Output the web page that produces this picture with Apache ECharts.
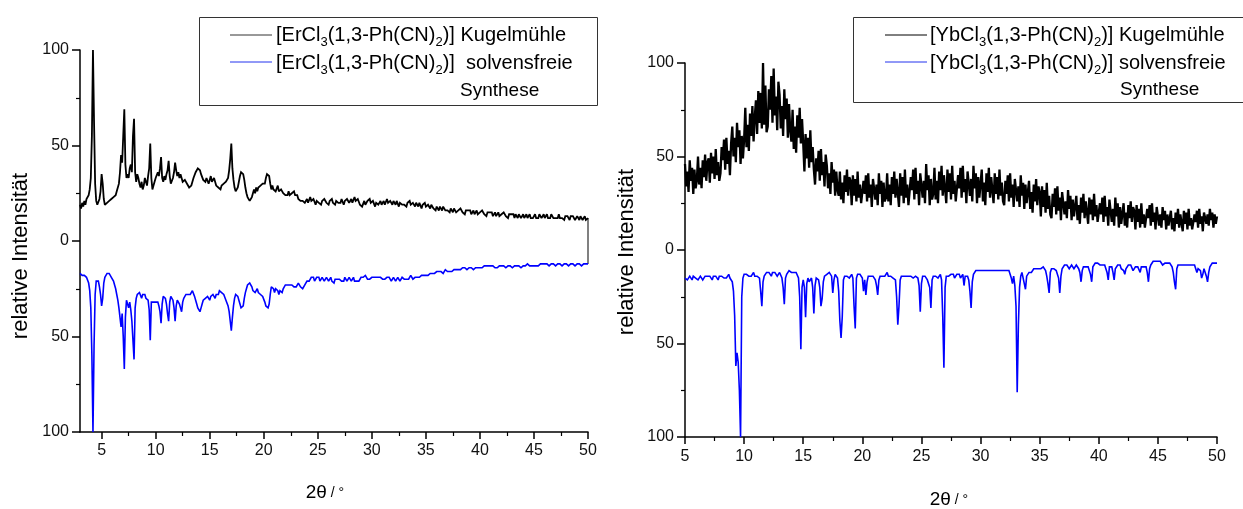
<!DOCTYPE html>
<html>
<head>
<meta charset="utf-8">
<script src="https://cdn.jsdelivr.net/npm/echarts@6/dist/echarts.min.js"></script>
<style>
html,body{margin:0;padding:0;background:#fff;}
#chart{width:1243px;height:509px;}
</style>
</head>
<body>
<div id="chart"></div>
<script>
// ---------- DATA ----------
// 2θ sampling grid (degrees)
const erThetaStart = 3.0;
const ybThetaStart = 5.0;
const thetaStep = 0.1;

// Tick labels
const erMajorTicks = [5, 10, 15, 20, 25, 30, 35, 40, 45, 50];
const erMinorTicks = [7.5, 12.5, 17.5, 22.5, 27.5, 32.5, 37.5, 42.5, 47.5];

// [ErCl3(1,3-Ph(CN)2)] Kugelmühle  (2θ = 3.0 … 50.0)
const erKugel = [
19,17,20,18,21,19,22,21,24,27,
33,55,100,62,30,21,19,20,22,26,
35,30,22,19,18,20,19,21,20,22,
21,23,22,24,26,27,30,36,45,41,
55,69,40,33,35,33,38,40,36,55,
64,36,31,35,33,30,28,31,27,29,
33,31,29,34,38,51,33,27,29,31,
33,32,36,34,38,44,33,31,34,32,
35,37,42,34,30,31,33,36,41,37,
34,36,33,35,36,31,30,32,31,30,
29,28,27,29,31,33,34,36,37,38,
39,37,35,34,32,33,31,33,32,30,
32,34,31,30,33,31,29,30,28,29,
27,29,28,30,29,31,30,33,37,43,
51,38,32,28,26,25,28,31,34,36,
36,35,32,28,25,23,22,21,21,23,
25,27,25,28,26,28,27,29,28,30,
31,30,33,35,36,34,30,27,29,27,
28,26,27,29,26,25,27,26,25,26,
24,25,24,26,24,23,25,24,26,24,
23,24,22,23,21,22,21,22,20,21,
22,20,21,23,21,20,22,21,19,21,
22,20,21,19,21,20,22,21,20,21,
19,21,20,22,20,21,19,21,22,20,
21,20,22,21,19,21,20,22,21,20,
21,22,20,21,23,21,20,22,21,19,
20,18,19,21,19,20,21,20,22,20,
19,21,20,18,20,21,19,20,21,19,
20,21,19,20,22,20,19,21,20,19,
21,20,19,21,20,18,20,21,19,20,
19,20,18,20,19,21,19,18,20,19,
18,20,19,18,20,19,17,19,18,20,
18,17,19,18,17,19,18,17,18,16,
18,17,16,18,17,16,18,17,16,17,
16,17,15,17,16,15,17,16,15,16,
16,15,17,16,15,16,14,16,15,16,
15,16,14,15,16,14,15,16,14,15,
15,14,16,15,14,15,13,15,14,15,
14,15,13,14,15,13,14,15,13,14,
14,13,15,14,13,14,12,14,13,14,
13,14,12,14,13,12,14,13,12,13,
14,12,13,14,12,13,14,12,13,12,
13,14,12,13,12,14,13,12,13,14,
12,13,14,12,13,12,14,13,12,13,
12,13,12,14,12,13,12,13,11,13,
12,13,12,11,13,12,13,12,11,12,
13,12,11,13,12,11,12,13,11,12,
12
];

// [ErCl3(1,3-Ph(CN)2)] solvensfreie Synthese (plotted downward, 2θ = 3.0 … 50.0)
const erSolv = [
17,17,18,17,18,19,19,20,22,26,
35,60,100,55,28,21,20,21,24,28,
34,30,22,19,18,17,18,17,18,19,
20,21,23,25,28,31,35,40,45,38,
50,67,40,31,33,35,32,36,42,52,
62,35,30,28,29,27,28,30,28,27,
28,30,29,31,36,52,32,31,32,31,
32,33,32,34,37,43,33,29,28,30,
33,38,42,32,29,30,31,35,42,34,
31,32,33,35,37,32,30,29,28,29,
28,27,28,27,26,27,29,31,33,35,
36,37,35,33,31,32,30,31,29,30,
31,29,30,28,29,30,28,27,28,26,
26,27,26,28,29,31,32,34,37,42,
47,40,34,30,28,27,29,31,33,35,
36,34,30,27,25,23,22,22,23,24,
26,25,27,26,25,27,26,28,27,29,
30,32,34,35,35,33,28,24,23,25,
27,25,24,26,28,26,25,27,25,24,
23,24,23,22,23,24,23,22,24,25,
24,23,22,23,24,23,25,24,23,22,
21,22,21,20,19,20,19,21,20,19,
20,19,21,20,19,20,21,20,19,20,
21,20,19,21,20,22,20,21,20,21,
20,19,21,20,21,19,20,21,20,19,
20,21,20,19,21,20,21,22,21,20,
19,18,19,19,18,19,20,19,20,19,
19,20,19,18,19,20,19,20,19,20,
20,19,20,21,19,20,19,20,21,20,
19,20,21,20,19,20,21,20,19,20,
20,19,20,19,20,19,18,19,20,19,
19,18,19,18,19,18,18,17,18,17,
18,17,18,17,17,18,17,16,17,17,
16,17,16,17,16,16,17,16,15,16,
16,15,16,15,16,15,15,16,15,14,
15,14,15,15,14,15,14,14,15,14,
14,15,14,14,15,14,14,13,14,14,
14,13,14,14,13,14,13,14,13,14,
13,14,13,13,14,13,14,13,13,14,
13,14,13,13,14,13,13,14,13,13,
14,13,13,14,13,12,13,13,14,13,
13,12,13,13,12,13,13,12,13,12,
13,12,13,12,13,12,12,13,12,13,
12,13,12,12,13,12,12,13,12,12,
13,12,12,13,12,12,13,12,12,13,
12,12,13,12,12,13,12,12,13,12,
12,13,12,12,13,12,12,13,12,12,
12
];

// [YbCl3(1,3-Ph(CN)2)] Kugelmühle  (2θ = 5.0 … 50.0)
const ybKugel = [
46,34,42,31,48,37,44,30,43,33,
37,50,35,44,33,48,39,51,37,47,
49,36,52,41,50,38,54,40,47,37,
41,55,48,59,43,60,46,53,40,57,
66,50,60,47,68,55,64,46,61,49,
59,76,55,67,53,73,61,77,58,71,
80,62,85,68,84,65,100,67,88,63,
66,86,75,93,68,97,72,82,64,90,
83,65,77,61,86,70,81,60,78,64,
58,75,54,66,52,72,60,76,57,70,
57,42,62,49,60,44,64,47,55,43,
35,49,42,53,37,54,40,47,34,51,
45,33,41,30,47,36,43,29,42,32,
29,42,27,36,25,40,31,43,29,39,
37,24,40,29,38,26,42,28,35,25,
24,37,30,40,26,41,28,35,23,38,
39,27,35,24,41,30,37,23,36,26,
28,41,26,35,24,39,30,42,28,38,
37,23,41,29,39,25,43,28,35,24,
25,39,32,43,27,44,30,37,24,41,
42,28,37,25,46,32,40,24,38,27,
30,44,27,37,25,42,32,45,29,40,
39,25,43,31,41,27,45,30,37,26,
26,40,33,44,28,45,31,38,25,42,
43,29,38,26,45,33,41,25,39,28,
29,43,26,36,24,41,31,44,28,39,
38,25,41,30,39,27,43,29,36,26,
24,37,30,40,26,41,28,35,23,38,
38,26,34,23,40,29,36,22,35,25,
24,37,22,31,20,35,26,38,24,34,
31,18,34,23,32,20,36,22,29,19,
17,30,23,33,19,34,21,28,16,31,
30,19,26,17,32,22,29,16,27,18,
18,29,16,24,14,28,20,30,17,26,
25,14,28,19,27,16,30,18,24,15,
14,25,19,28,15,29,18,23,13,27,
26,15,22,13,28,18,25,12,23,14,
15,25,13,20,12,24,17,26,15,23,
21,11,24,15,22,12,25,14,19,12,
12,22,17,24,13,25,15,20,11,23,
22,13,19,12,23,16,21,11,19,13,
13,21,11,17,10,20,14,22,12,19,
18,10,21,14,20,11,22,13,17,11,
11,19,15,21,12,22,14,18,10,20,
21,14,19,13,22,16,20,12,19,14,
18
];

// [YbCl3(1,3-Ph(CN)2)] solvensfreie Synthese (plotted downward, 2θ = 5.0 … 50.0)
const ybSolv = [
15,14,16,15,14,15,16,14,15,15,
14,16,15,14,15,16,15,14,15,14,
15,14,15,16,14,15,14,15,16,14,
15,14,13,15,14,15,14,13,15,14,
17,22,35,62,55,60,75,100,25,15,
13,14,13,12,14,13,14,13,12,14,
13,14,13,15,22,30,17,14,13,12,
13,12,13,14,12,13,12,13,14,13,
12,13,15,20,29,15,13,12,11,12,
12,11,12,13,12,13,15,25,53,20,
16,20,36,18,15,17,16,15,20,34,
19,15,14,16,20,30,26,17,14,13,
13,14,12,13,14,23,16,13,14,15,
22,38,47,36,16,14,13,14,13,15,
14,13,15,30,42,15,13,12,13,14,
15,22,16,24,17,14,13,14,15,14,
15,16,19,24,16,14,13,14,13,14,
13,12,14,13,14,13,15,14,16,25,
40,30,16,14,13,14,15,14,13,14,
15,14,13,15,16,14,13,15,19,33,
18,14,13,14,15,16,15,20,31,16,
14,13,14,13,15,14,13,16,35,63,
20,14,13,14,15,13,14,13,15,14,
13,14,13,15,14,13,19,14,13,14,
16,22,31,17,13,12,11,12,11,12,
11,12,11,12,11,10,11,12,11,12,
11,12,11,10,11,12,11,10,11,10,
11,10,11,12,11,13,15,18,14,19,
30,76,40,20,14,12,13,18,21,14,
13,12,11,12,11,10,9,10,9,10,
9,10,9,9,10,11,14,18,23,12,
10,9,10,9,11,10,15,23,14,10,
9,8,9,8,9,10,9,8,9,10,
9,8,9,10,12,17,11,9,8,9,
8,9,10,13,17,9,8,7,8,7,
7,8,7,8,7,8,9,12,16,9,
8,9,12,16,10,9,8,9,8,10,
9,11,13,10,9,8,9,8,9,11,
10,9,8,9,10,12,9,8,9,10,
9,12,17,10,8,7,6,7,6,7,
6,7,6,7,8,9,7,6,7,8,
7,8,9,12,17,21,10,8,7,8,
7,8,7,8,9,8,7,8,9,8,
9,8,10,12,10,9,11,15,13,10,
12,14,17,12,9,8,7,8,7,6,
7
];

// ---------- BUILD ----------
const FONT = "'Liberation Sans', Arial, sans-serif";
function pairs(vals, start, sign) {
  return vals.map((v, i) => [Math.round((start + i * thetaStep) * 100) / 100, sign * v]);
}
const erKugelData = pairs(erKugel, erThetaStart, 1);
const erSolvData = pairs(erSolv, erThetaStart, -1);
const ybKugelData = pairs(ybKugel, ybThetaStart, 1);
const ybSolvData = pairs(ybSolv, ybThetaStart, -1);
const erJoin = [erKugelData[erKugelData.length - 1], erSolvData[erSolvData.length - 1]];

const axisColor = '#000';
const labelStyle = { fontSize: 16, color: '#111', fontFamily: FONT };

function yAxisCfg(gridIndex) {
  return {
    gridIndex, type: 'value', min: -100, max: 100, interval: 50,
    axisLine: { show: true, lineStyle: { color: axisColor, width: 1.5 } },
    axisTick: { show: true, inside: false, length: 8, lineStyle: { color: axisColor, width: 1.5 } },
    minorTick: { show: true, splitNumber: 2, length: 4, lineStyle: { color: axisColor, width: 1.2 } },
    axisLabel: Object.assign({ margin: 11, formatter: v => String(Math.abs(v)) }, labelStyle),
    splitLine: { show: false }, minorSplitLine: { show: false }
  };
}

const lineSeries = (name, x, y, data, color, width) => ({
  name, type: 'line', xAxisIndex: x, yAxisIndex: y, data,
  showSymbol: false, symbol: 'none',
  lineStyle: { color, width, join: 'miter', miterLimit: 2 }, itemStyle: { color },
  emphasis: { disabled: true }, animation: false, silent: true
});

const subRich = {
  m: { fontSize: 20, fontFamily: FONT, fill: '#000', lineHeight: 28, verticalAlign: 'middle' },
  s: { fontSize: 13, fontFamily: FONT, fill: '#000', lineHeight: 14, verticalAlign: 'bottom' }
};
const thetaRich = {
  a: { fontSize: 19, fontFamily: FONT, fill: '#000' },
  b: { fontSize: 14, fontFamily: FONT, fill: '#000' }
};

const option = {
  backgroundColor: '#fff',
  animation: false,
  grid: [
    { left: 80, top: 50, width: 508, height: 382 },
    { left: 80, top: 50, width: 508, height: 382 },
    { left: 685, top: 63, width: 532, height: 374 }
  ],
  xAxis: [
    {
      gridIndex: 0, type: 'value', min: 3, max: 50,
      axisLine: { show: true, onZero: false, lineStyle: { color: axisColor, width: 1.5 } },
      axisTick: { show: true, length: 7, customValues: erMajorTicks, lineStyle: { color: axisColor, width: 1.5 } },
      axisLabel: Object.assign({ margin: 11, customValues: erMajorTicks }, labelStyle),
      splitLine: { show: false }
    },
    {
      gridIndex: 1, type: 'value', min: 3, max: 50,
      axisLine: { show: false, onZero: false },
      axisTick: { show: true, length: 4, customValues: erMinorTicks, lineStyle: { color: axisColor, width: 1.2 } },
      axisLabel: { show: false },
      splitLine: { show: false }
    },
    {
      gridIndex: 2, type: 'value', min: 5, max: 50, interval: 5,
      axisLine: { show: true, onZero: false, lineStyle: { color: axisColor, width: 1.5 } },
      axisTick: { show: true, length: 7, lineStyle: { color: axisColor, width: 1.5 } },
      minorTick: { show: true, splitNumber: 2, length: 4, lineStyle: { color: axisColor, width: 1.2 } },
      axisLabel: Object.assign({ margin: 12 }, labelStyle),
      splitLine: { show: false }, minorSplitLine: { show: false }
    }
  ],
  yAxis: [
    yAxisCfg(0),
    { gridIndex: 1, type: 'value', min: -100, max: 100, show: false },
    yAxisCfg(2)
  ],
  series: [
    lineSeries('ErJoin', 0, 0, erJoin, '#808080', 2),
    lineSeries('[ErCl3(1,3-Ph(CN)2)] Kugelmühle', 0, 0, erKugelData, '#000', 1.8),
    lineSeries('[ErCl3(1,3-Ph(CN)2)] solvensfreie Synthese', 0, 0, erSolvData, '#0000ff', 1.6),
    lineSeries('[YbCl3(1,3-Ph(CN)2)] Kugelmühle', 2, 2, ybKugelData, '#000', 2.3),
    lineSeries('[YbCl3(1,3-Ph(CN)2)] solvensfreie Synthese', 2, 2, ybSolvData, '#0000ff', 1.6)
  ],
  graphic: [
    // left legend
    { type: 'rect', shape: { x: 199.5, y: 17.5, width: 398, height: 88 }, style: { fill: 'none', stroke: '#333', lineWidth: 1 }, silent: true },
    { type: 'line', shape: { x1: 230, y1: 35, x2: 272, y2: 35 }, style: { stroke: '#333', lineWidth: 1 }, silent: true },
    { type: 'line', shape: { x1: 230, y1: 62, x2: 272, y2: 62 }, style: { stroke: '#2233ee', lineWidth: 1 }, silent: true },
    { type: 'text', x: 276, y: 35, silent: true, style: { text: '{m|[ErCl}{s|3}{m|(1,3-Ph(CN)}{s|2}{m|)] Kugelmühle}', rich: subRich, verticalAlign: 'middle', align: 'left' } },
    { type: 'text', x: 276, y: 63, silent: true, style: { text: '{m|[ErCl}{s|3}{m|(1,3-Ph(CN)}{s|2}{m|)]  solvensfreie}', rich: subRich, verticalAlign: 'middle', align: 'left' } },
    { type: 'text', x: 460, y: 91, silent: true, style: { text: 'Synthese', fontSize: 19, fontFamily: FONT, fill: '#000', verticalAlign: 'middle', align: 'left' } },
    // right legend
    { type: 'rect', shape: { x: 853.5, y: 17.5, width: 400, height: 85 }, style: { fill: 'none', stroke: '#333', lineWidth: 1 }, silent: true },
    { type: 'line', shape: { x1: 885, y1: 35, x2: 927, y2: 35 }, style: { stroke: '#000', lineWidth: 1 }, silent: true },
    { type: 'line', shape: { x1: 885, y1: 62, x2: 927, y2: 62 }, style: { stroke: '#2233ee', lineWidth: 1 }, silent: true },
    { type: 'text', x: 930, y: 35, silent: true, style: { text: '{m|[YbCl}{s|3}{m|(1,3-Ph(CN)}{s|2}{m|)] Kugelmühle}', rich: subRich, verticalAlign: 'middle', align: 'left' } },
    { type: 'text', x: 930, y: 63, silent: true, style: { text: '{m|[YbCl}{s|3}{m|(1,3-Ph(CN)}{s|2}{m|)] solvensfreie}', rich: subRich, verticalAlign: 'middle', align: 'left' } },
    { type: 'text', x: 1120, y: 90, silent: true, style: { text: 'Synthese', fontSize: 19, fontFamily: FONT, fill: '#000', verticalAlign: 'middle', align: 'left' } },
    // axis titles
    { type: 'text', x: 21, y: 256, rotation: Math.PI / 2, silent: true, style: { text: 'relative Intensität', fontSize: 22, fontFamily: FONT, fill: '#000', align: 'center', verticalAlign: 'middle' } },
    { type: 'text', x: 627, y: 252, rotation: Math.PI / 2, silent: true, style: { text: 'relative Intensität', fontSize: 22, fontFamily: FONT, fill: '#000', align: 'center', verticalAlign: 'middle' } },
    { type: 'text', x: 325, y: 493, silent: true, style: { text: '{a|2θ}{b| / °}', rich: thetaRich, align: 'center', verticalAlign: 'middle' } },
    { type: 'text', x: 949, y: 500, silent: true, style: { text: '{a|2θ}{b| / °}', rich: thetaRich, align: 'center', verticalAlign: 'middle' } }
  ]
};

const chart = echarts.init(document.getElementById('chart'), null, { renderer: 'canvas' });
chart.setOption(option);
</script>
</body>
</html>
